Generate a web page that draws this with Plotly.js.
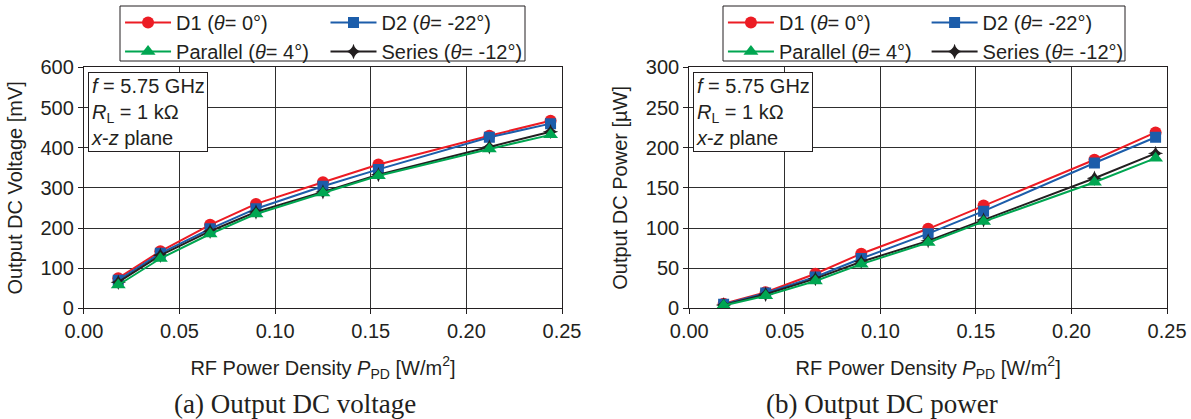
<!DOCTYPE html>
<html><head><meta charset="utf-8">
<script src="https://cdn.plot.ly/plotly-3.0.1.min.js"></script>
<style>html,body{margin:0;padding:0;background:#fff}#chart{width:1191px;height:419px}</style>
</head><body><div id="chart"></div>
<script>
// RF power density P_PD [W/m^2]
const ppd = [0.018, 0.040, 0.066, 0.090, 0.125, 0.154, 0.212, 0.244];
const seriesNames = ['D1 (<i>θ</i>= 0°)', 'D2 (<i>θ</i>= -22°)', 'Series (<i>θ</i>= -12°)', 'Parallel (<i>θ</i>= 4°)'];
// Output DC voltage [mV]
const voltD1 = [75, 142, 208, 260, 314, 358, 430, 467];
const voltD2 = [70, 137, 198, 248, 304, 346, 426, 460];
const voltSeries = [65, 132, 192, 240, 290, 333, 402, 440];
const voltParallel = [58, 124, 185, 235, 287, 330, 397, 432];
// Output DC power [uW]
const powD1 = [5.6, 20, 43, 68, 99, 128, 185, 219];
const powD2 = [4.9, 19, 39, 62, 93, 121, 181, 213];
const powSeries = [4.2, 17.5, 37, 58, 84, 110, 162, 193];
const powParallel = [3.4, 15.5, 34, 55, 82, 108, 157, 187];
const xTickVals = [0, 0.05, 0.10, 0.15, 0.20, 0.25];
const xTickText = ['0.00', '0.05', '0.10', '0.15', '0.20', '0.25'];

const colors = ['#ec1c24', '#1c5daa', '#231f20', '#00a651'];
const symbols = ['circle', 'square', 'star-diamond', 'triangle-up'];
const sizes = [12, 11, 11, 13];
const voltData = [voltD1, voltD2, voltSeries, voltParallel];
const powData = [powD1, powD2, powSeries, powParallel];
// legend column for each series (left chart / right chart)
const legL = ['legend', 'legend2', 'legend2', 'legend'];
const legR = ['legend3', 'legend4', 'legend4', 'legend3'];

const traces = [];
voltData.forEach((v, i) => traces.push({
  x: ppd, y: v, xaxis: 'x', yaxis: 'y', type: 'scatter', mode: 'lines+markers',
  name: seriesNames[i], legend: legL[i],
  line: {color: colors[i], width: 2},
  marker: {color: colors[i], symbol: symbols[i], size: sizes[i]}
}));
powData.forEach((v, i) => traces.push({
  x: ppd, y: v, xaxis: 'x2', yaxis: 'y2', type: 'scatter', mode: 'lines+markers',
  name: seriesNames[i], legend: legR[i],
  line: {color: colors[i], width: 2},
  marker: {color: colors[i], symbol: symbols[i], size: sizes[i]}
}));

const FONT = 'Liberation Sans, Arial, sans-serif';
const axCommon = {
  showline: true, mirror: true, linecolor: '#231f20', linewidth: 1,
  showgrid: true, gridcolor: '#2e2e2e', gridwidth: 1, zeroline: false,
  ticks: 'outside', ticklen: 5, tickcolor: '#231f20',
  tickfont: {family: FONT, size: 20, color: '#231f20'}, automargin: false
};
const xTitle = {text: 'RF Power Density <i>P</i><sub>PD</sub> [W/m<sup>2</sup>]',
  font: {family: FONT, size: 20, color: '#231f20'}, standoff: 19};

const legCommon = {
  xref: 'paper', yref: 'paper', xanchor: 'left', yanchor: 'top',
  bgcolor: 'rgba(0,0,0,0)', borderwidth: 0, itemwidth: 46, tracegroupgap: 0,
  font: {family: FONT, size: 20, color: '#231f20'}, orientation: 'v'
};

const boxText = '<i>f</i> = 5.75 GHz<br><i>R</i><sub>L</sub> = 1 kΩ<br><i>x</i>-<i>z</i> plane';

const layout = {
  width: 1191, height: 419, margin: {l: 0, r: 0, t: 0, b: 0},
  paper_bgcolor: '#fff', plot_bgcolor: '#fff', showlegend: true,
  xaxis: Object.assign({}, axCommon, {domain: [0.0704, 0.4719], anchor: 'y', range: [0, 0.25],
    tickvals: xTickVals, ticktext: xTickText, title: xTitle}),
  yaxis: Object.assign({}, axCommon, {domain: [0.2642, 0.8391], anchor: 'x', range: [0, 600], dtick: 100,
    title: {text: 'Output DC Voltage [mV]', font: {family: FONT, size: 20, color: '#231f20'}, standoff: 12}}),
  xaxis2: Object.assign({}, axCommon, {domain: [0.5787, 0.9799], anchor: 'y2', range: [0, 0.25],
    tickvals: xTickVals, ticktext: xTickText, title: xTitle}),
  yaxis2: Object.assign({}, axCommon, {domain: [0.2642, 0.8391], anchor: 'x2', range: [0, 300], dtick: 50,
    title: {text: 'Output DC Power [µW]', font: {family: FONT, size: 20, color: '#231f20'}, standoff: 12}}),
  legend: Object.assign({}, legCommon, {x: 0.1008, y: 0.993}),
  legend2: Object.assign({}, legCommon, {x: 0.2733, y: 0.993}),
  legend3: Object.assign({}, legCommon, {x: 0.607, y: 0.993}),
  legend4: Object.assign({}, legCommon, {x: 0.778, y: 0.993}),
  shapes: [
    {type: 'rect', xref: 'paper', yref: 'paper', x0: 120/1191, x1: 525/1191, y0: 1 - 61/419, y1: 1 - 6/419,
      line: {color: '#231f20', width: 1}},
    {type: 'rect', xref: 'paper', yref: 'paper', x0: 723/1191, x1: 1125/1191, y0: 1 - 61/419, y1: 1 - 6/419,
      line: {color: '#231f20', width: 1}}
  ],
  annotations: [
    {text: boxText, xref: 'x domain', yref: 'y domain', x: 0, y: 1, xshift: 4, yshift: -5,
      xanchor: 'left', yanchor: 'top', align: 'left', showarrow: false, bgcolor: '#fff',
      bordercolor: '#231f20', borderwidth: 1, borderpad: 2,
      font: {family: FONT, size: 20, color: '#231f20'}},
    {text: boxText, xref: 'x2 domain', yref: 'y2 domain', x: 0, y: 1, xshift: 4, yshift: -5,
      xanchor: 'left', yanchor: 'top', align: 'left', showarrow: false, bgcolor: '#fff',
      bordercolor: '#231f20', borderwidth: 1, borderpad: 2,
      font: {family: FONT, size: 20, color: '#231f20'}},
    {text: '(a) Output DC voltage', xref: 'paper', yref: 'paper', x: 295/1191, y: 1 - 404/419,
      xanchor: 'center', yanchor: 'middle', showarrow: false,
      font: {family: 'Liberation Serif, Times New Roman, serif', size: 27, color: '#231f20'}},
    {text: '(b) Output DC power', xref: 'paper', yref: 'paper', x: 882/1191, y: 1 - 404/419,
      xanchor: 'center', yanchor: 'middle', showarrow: false,
      font: {family: 'Liberation Serif, Times New Roman, serif', size: 27, color: '#231f20'}}
  ]
};

Plotly.newPlot('chart', traces, layout, {displayModeBar: false, staticPlot: true});
</script></body></html>
